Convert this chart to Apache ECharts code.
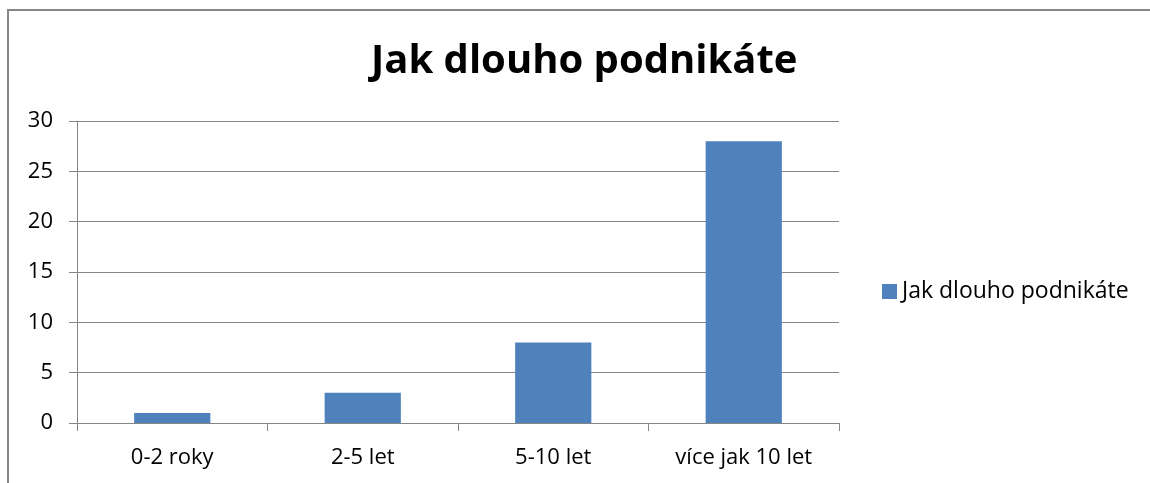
<!DOCTYPE html>
<html>
<head>
<meta charset="utf-8">
<script src="https://cdn.jsdelivr.net/npm/echarts@6/dist/echarts.min.js"></script>
<style>
  html, body { margin: 0; padding: 0; background: #fff; overflow: hidden; }
  #chart { width: 1150px; height: 483px; }
</style>
</head>
<body>
<div id="chart"></div>
<script>
// data
var titleText = 'Jak dlouho podnikáte';
var categories = ['0-2 roky', '2-5 let', '5-10 let', 'více jak 10 let'];
var values = [1, 3, 8, 28];

var font = '"Open Sans", "Noto Sans", sans-serif';
var gray = '#868686';

var myChart = echarts.init(document.getElementById('chart'));
myChart.setOption({
    animation: false,
    title: {
        text: titleText,
        left: 366,
        top: 37,
        textStyle: {fontFamily: font, fontSize: 40, fontWeight: 'bold', color: '#000'}
    },
    legend: {
        left: 882,
        top: 280,
        padding: 0,
        itemWidth: 15,
        itemHeight: 15,
        itemGap: 0,
        icon: 'rect',
        textStyle: {fontFamily: font, fontSize: 23, color: '#000'},
        data: [titleText]
    },
    grid: {left: 77, right: 311, top: 121, bottom: 60, containLabel: false},
    xAxis: {
        type: 'category',
        data: categories,
        axisLine: {lineStyle: {color: gray, width: 1}},
        axisTick: {show: true, length: 8, lineStyle: {color: gray}},
        axisLabel: {fontFamily: font, fontSize: 22, color: '#000', margin: 24}
    },
    yAxis: {
        type: 'value',
        min: 0,
        max: 30,
        interval: 5,
        axisLine: {show: true, lineStyle: {color: gray, width: 1}},
        axisTick: {show: true, length: 8, lineStyle: {color: gray}},
        axisLabel: {fontFamily: font, fontSize: 22, color: '#000', margin: 24},
        splitLine: {lineStyle: {color: gray, width: 1}}
    },
    series: [{
        name: titleText,
        type: 'bar',
        data: values,
        barWidth: '40%',
        itemStyle: {color: '#4F81BD'}
    }],
    graphic: [{
        type: 'rect',
        shape: {x: 8, y: 10, width: 1300, height: 700},
        style: {fill: null, stroke: gray, lineWidth: 2}
    }]
});
</script>
</body>
</html>
